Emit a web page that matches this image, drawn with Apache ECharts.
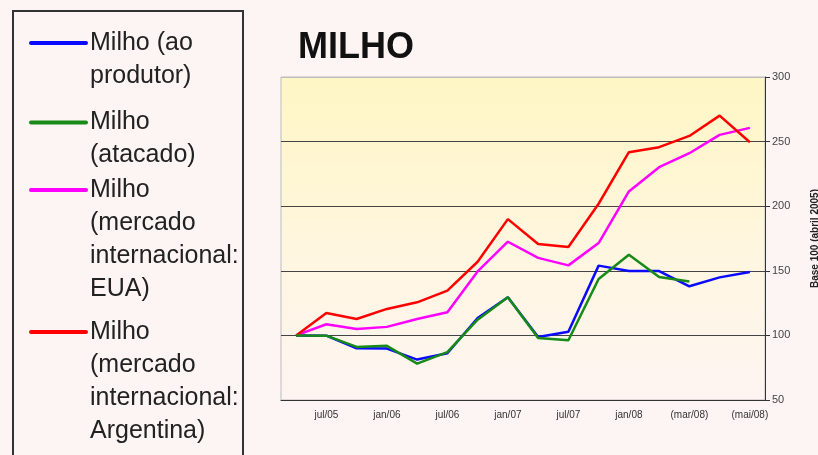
<!DOCTYPE html>
<html>
<head>
<meta charset="utf-8">
<title>Milho</title>
<style>
  html, body { margin: 0; padding: 0; width: 100%; height: 100%; background: #fdf4f4; }
  #main { width: 818px; height: 455px; }
</style>
<script src="https://cdn.jsdelivr.net/npm/echarts@6/dist/echarts.min.js"></script>
</head>
<body>
<div id="main"></div>
<script>
// categorias (trimestral até jan/08, depois mensal)
var meses = ['abr/05', 'jul/05', 'out/05', 'jan/06', 'abr/06', 'jul/06', 'out/06', 'jan/07',
             'abr/07', 'jul/07', 'out/07', 'jan/08', 'fev/08', '(mar/08)', 'abr/08', '(mai/08)'];

var nomes = [
  'Milho (ao\nprodutor)',
  'Milho\n(atacado)',
  'Milho\n(mercado\ninternacional:\nEUA)',
  'Milho\n(mercado\ninternacional:\nArgentina)'
];
var cores = ['#0a0aff', '#178a17', '#ff00ff', '#ff0000'];

var produtor  = [100, 99.8, 90, 89.8, 81.3, 86.2, 113.5, 129.5, 98.8, 102.9, 154, 149.8, 149.8, 138, 144.9, 149];
var atacado   = [100, 99.8, 91.1, 91.9, 78.2, 87, 112.2, 129.5, 98, 96.2, 143.6, 162.4, 145.2, 141.8, null, null];
var eua       = [100, 108.6, 105, 106.6, 112.7, 117.9, 149.5, 172.5, 160, 154.2, 171.5, 211.4, 230.2, 241, 255.2, 260.6];
var argentina = [100, 117.4, 112.7, 120.5, 125.6, 134.6, 157, 190, 170.7, 168.4, 201.9, 241.8, 245.7, 254.4, 270.1, 249.5];

var valores = [produtor, atacado, eua, argentina];

var chart = echarts.init(document.getElementById('main'));

// legenda desenhada à mão (o ícone fica na primeira linha do texto)
var legendaY = [43, 122.5, 190, 332];
var legenda = [{
  type: 'rect',
  shape: { x: 13, y: 11, width: 230, height: 470 },
  style: { fill: 'none', stroke: '#333', lineWidth: 2 }
}];
nomes.forEach(function (n, i) {
  legenda.push({
    type: 'line',
    shape: { x1: 31, y1: legendaY[i], x2: 86, y2: legendaY[i] },
    style: { stroke: cores[i], lineWidth: 4, lineCap: 'round' }
  });
  legenda.push({
    type: 'text',
    x: 90,
    y: legendaY[i] - 16.5,
    style: {
      text: n,
      font: '25px "Liberation Sans", Arial, sans-serif',
      lineHeight: 33,
      fill: '#222',
      verticalAlign: 'top'
    }
  });
});

var series = valores.map(function (v, i) {
  return {
    name: nomes[i],
    type: 'line',
    data: v,
    symbol: 'none',
    connectNulls: false,
    lineStyle: { color: cores[i], width: 2.5 },
    itemStyle: { color: cores[i] },
    z: 3 + (i === 1 ? 1 : 0)
  };
});

chart.setOption({
  animation: false,
  backgroundColor: '#fdf4f4',
  title: {
    text: 'MILHO',
    left: 293,
    top: 25,
    textStyle: { fontFamily: '"Liberation Sans", Arial, sans-serif', fontSize: 36, fontWeight: 'bold', color: '#111' }
  },
  graphic: legenda,
  grid: {
    left: 281, right: 53, top: 77, bottom: 55,
    containLabel: false,
    outerBoundsMode: 'none',
    show: true,
    borderColor: '#bdbdbd',
    borderWidth: 1,
    backgroundColor: {
      type: 'linear', x: 0, y: 0, x2: 0, y2: 1,
      colorStops: [
        { offset: 0, color: '#fff6c4' },
        { offset: 0.55, color: '#fff6e0' },
        { offset: 1, color: '#fdf4f2' }
      ]
    }
  },
  xAxis: {
    type: 'category',
    data: meses,
    boundaryGap: true,
    axisLine: { lineStyle: { color: '#333', width: 1 } },
    axisTick: { interval: 0, length: 4, lineStyle: { color: '#333' } },
    axisLabel: {
      interval: function (idx) { return idx % 2 === 1; },
      color: '#333',
      fontSize: 10,
      fontFamily: '"Liberation Sans", Arial, sans-serif',
      margin: 10
    },
    splitLine: { show: false }
  },
  yAxis: {
    type: 'value',
    position: 'right',
    min: 50, max: 300, interval: 50,
    name: 'Base 100 (abril 2005)',
    nameLocation: 'middle',
    nameRotate: 90,
    nameGap: 45,
    nameTextStyle: { fontSize: 10, fontWeight: 'bold', color: '#222', fontFamily: '"Liberation Sans", Arial, sans-serif' },
    axisLine: { show: true, lineStyle: { color: '#333' } },
    axisTick: { show: true, length: 5, lineStyle: { color: '#333' } },
    axisLabel: { color: '#444', fontSize: 11, margin: 7, fontFamily: '"Liberation Sans", Arial, sans-serif' },
    splitLine: { show: true, lineStyle: { color: ['#333', '#444', '#444', '#444', '#444', '#bdbdbd'], width: 1 } }
  },
  series: series
});
</script>
</body>
</html>
